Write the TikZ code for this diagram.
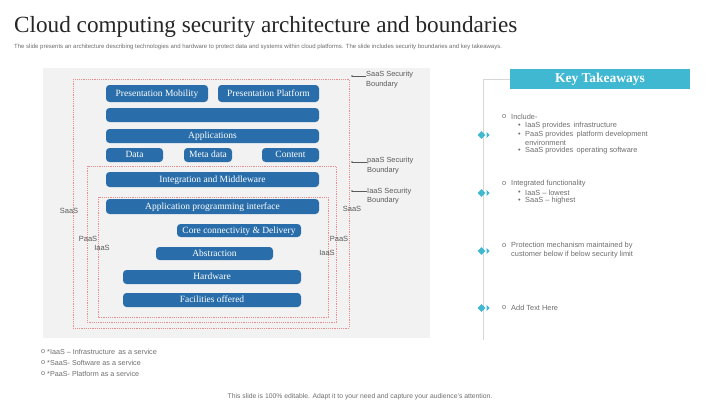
\documentclass[tikz,border=0pt]{standalone}
\usepackage{fontspec}
\setmainfont{Liberation Serif}
\setsansfont{Liberation Sans}
\usetikzlibrary{shapes.geometric}
\definecolor{boxblue}{RGB}{41,110,170}
\definecolor{keycyan}{RGB}{64,184,210}
\definecolor{panelgray}{RGB}{242,242,242}
\definecolor{bndred}{RGB}{236,140,140}
\definecolor{txtgray}{RGB}{110,110,110}
\definecolor{lblgray}{RGB}{90,90,90}
\definecolor{titlegray}{RGB}{38,38,38}
\definecolor{tlgray}{RGB}{215,215,215}
\tikzset{
  blk/.style={fill=boxblue, rounded corners=3.5pt, text=white, inner sep=0pt,
    text height=6.4pt, text depth=0.8pt,
    font=\rmfamily\fontsize{9.5}{10}\selectfont},
  bnd/.style={draw=bndred, line width=0.6pt, dash pattern=on 1.2pt off 1pt},
  sidelbl/.style={text=lblgray, font=\sffamily\fontsize{7.5}{8}\selectfont, inner sep=0pt},
  bndlbl/.style={text=lblgray, font=\sffamily\fontsize{7.4}{9.5}\selectfont, inner sep=0pt, align=left, anchor=north west},
  annline/.style={draw=lblgray, line width=0.4pt},
  rtxt/.style={text=txtgray, font=\sffamily\fontsize{7.4}{8}\selectfont, inner sep=0pt, anchor=west},
  ntxt/.style={text=txtgray, font=\sffamily\fontsize{7.2}{8}\selectfont, inner sep=0pt, anchor=west},
  tkdia/.style={diamond, fill=keycyan, inner sep=0pt, minimum width=8pt, minimum height=8pt},
  tline/.style={draw=tlgray, line width=0.8pt}
}
\begin{document}
\begin{tikzpicture}[x=1pt,y=-1pt]
\useasboundingbox[fill=white] (0,0) rectangle (720,404);

% title
\node[anchor=base west, inner sep=0pt, text=titlegray, font=\rmfamily\fontsize{23.2}{26}\selectfont] (title) at (14,33) {Cloud computing security architecture and boundaries};
\node[anchor=west, inner sep=0pt, text=txtgray, font=\sffamily\fontsize{6}{6.5}\selectfont] (sub) at (14,47) {The slide presents an architecture describing technologies and hardware to protect data and systems within cloud platforms. The slide includes security boundaries and key takeaways.};

% panel
\fill[panelgray] (43,68) rectangle (430,338);

% boundaries
\draw[bnd] (73,79) rectangle (349,328);
\draw[bnd] (87,166) rectangle (336,322);
\draw[bnd] (98,197) rectangle (328,317);

% blocks
\node[blk, minimum width=102pt, minimum height=17pt] (pm) at (157,93.5) {Presentation Mobility};
\node[blk, minimum width=101pt, minimum height=17pt] (pp) at (268.5,93.5) {Presentation Platform};
\node[blk, minimum width=213pt, minimum height=14pt] (blank) at (212.5,115) {};
\node[blk, minimum width=213pt, minimum height=14pt] (app) at (212.5,136) {Applications};
\node[blk, minimum width=57pt, minimum height=14pt] (data) at (134.5,155) {Data};
\node[blk, minimum width=48pt, minimum height=14pt] (meta) at (208,155) {Meta data};
\node[blk, minimum width=57pt, minimum height=14pt] (cont) at (290.5,155) {Content};
\node[blk, minimum width=213pt, minimum height=15pt] (integ) at (212.5,179.5) {Integration and Middleware};
\node[blk, minimum width=213pt, minimum height=15pt] (api) at (212.5,206.5) {Application programming interface};
\node[blk, minimum width=124pt, minimum height=13pt] (core) at (239,230.5) {Core connectivity \& Delivery};
\node[blk, minimum width=117pt, minimum height=13pt] (abs) at (214.5,253.5) {Abstraction};
\node[blk, minimum width=178pt, minimum height=14pt] (hw) at (212,277) {Hardware};
\node[blk, minimum width=178pt, minimum height=14pt] (fac) at (212,300) {Facilities offered};

% side labels
\node[sidelbl] (lsaas) at (69,211) {SaaS};
\node[sidelbl] (lpaas) at (88,239) {PaaS};
\node[sidelbl] (liaas) at (102,248) {IaaS};
\node[sidelbl] (rsaas) at (352,209) {SaaS};
\node[sidelbl] (rpaas) at (339,239) {PaaS};
\node[sidelbl] (riaas) at (327,253) {IaaS};

% boundary annotations
\node[bndlbl] (bs) at (366,71) {SaaS Security\\Boundary};
\node[bndlbl] (bp) at (367,157) {paaS Security\\Boundary};
\node[bndlbl] (bi) at (367,187.5) {IaaS Security\\Boundary};
\coordinate (cs) at (352,76);
\coordinate (cp) at (352,162);
\coordinate (ci) at (352,191);
\draw[annline] (cs) -- (cs -| bs.west);
\draw[annline] (cp) -- (cp -| bp.west);
\draw[annline] (ci) -- (ci -| bi.west);
\fill[lblgray] (cs) circle (0.9pt) (cp) circle (0.9pt) (ci) circle (0.9pt);

% key takeaways
\node[fill=keycyan, minimum width=180pt, minimum height=20pt, inner sep=0pt, text=white, font=\rmfamily\bfseries\fontsize{13.5}{14}\selectfont] (kt) at (600,79) {Key Takeaways};
\coordinate (ttop) at (483,79);
\coordinate (tbot) at (483,340);
\draw[tline] (tbot) -- (ttop) -- (kt.west);

\foreach \n/\y in {m1/135, m2/193, m3/251, m4/308}{
  \node[tkdia] (\n) at (481.5,\y) {};
  \fill[keycyan] (\n.east) ++(0.8,-3.2) -- ++(3.2,3.2) -- ++(-3.2,3.2) -- cycle;
}

% right texts
\node[rtxt] (o1) at (502,117) {o};
\node[rtxt] (t1) at (511,117) {Include-};
\node[rtxt] (b11) at (518,126) {\textbullet};
\node[rtxt] (t11) at (525,126) {IaaS provides\, infrastructure};
\node[rtxt] (b12) at (518,134.5) {\textbullet};
\node[rtxt] (t12) at (525,134.5) {PaaS provides\, platform development};
\node[rtxt] (t12b) at (525,142.5) {environment};
\node[rtxt] (b13) at (518,151) {\textbullet};
\node[rtxt] (t13) at (525,151) {SaaS provides\, operating software};

\node[rtxt] (o2) at (502,183.5) {o};
\node[rtxt] (t2) at (511,183.5) {Integrated functionality};
\node[rtxt] (b21) at (518,192.5) {\textbullet};
\node[rtxt] (t21) at (525,192.5) {IaaS -- lowest};
\node[rtxt] (b22) at (518,201) {\textbullet};
\node[rtxt] (t22) at (525,201) {SaaS -- highest};

\node[rtxt] (o3) at (502,246) {o};
\node[rtxt] (t3) at (511,246) {Protection mechanism maintained by};
\node[rtxt] (t3b) at (511,255) {customer below if below security limit};

\node[rtxt] (o4) at (502,308) {o};
\node[rtxt] (t4) at (511,308) {Add Text Here};

% notes
\node[ntxt] (n1o) at (41,352) {o};
\node[ntxt] (n1) at (47,352) {*IaaS -- Infrastructure\, as a service};
\node[ntxt] (n2o) at (41,363) {o};
\node[ntxt] (n2) at (47,363) {*SaaS- Software as a service};
\node[ntxt] (n3o) at (41,374) {o};
\node[ntxt] (n3) at (47,374) {*PaaS- Platform as a service};

% footer
\node[inner sep=0pt, text=txtgray, font=\sffamily\fontsize{6.8}{7}\selectfont] (foot) at (360,397) {This slide is 100\% editable. Adapt it to your need and capture your audience's attention.};
\end{tikzpicture}
\end{document}
